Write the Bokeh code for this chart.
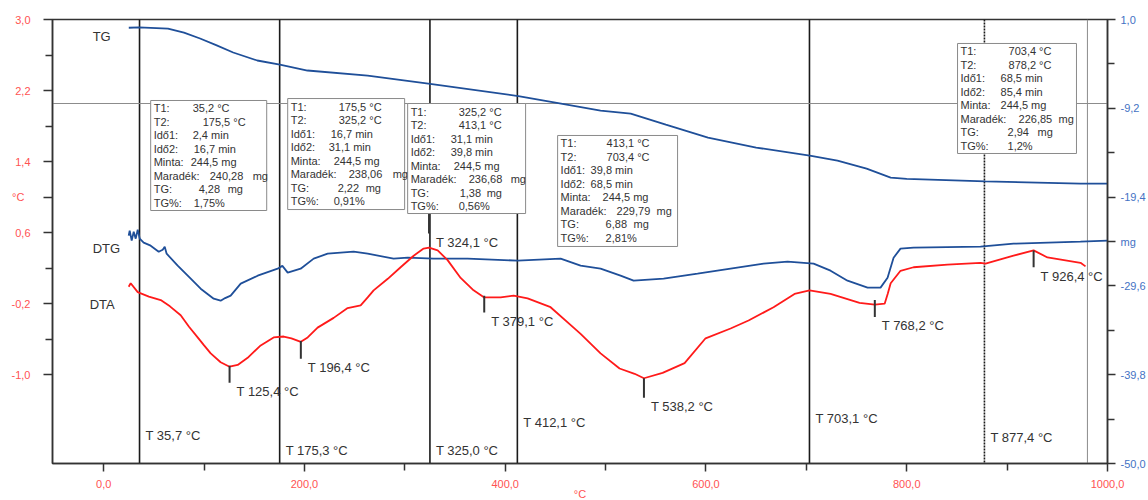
from bokeh.plotting import figure
from bokeh.models import Range1d, LinearAxis, FixedTicker, CustomJSTickFormatter, Span, ColumnDataSource
from bokeh.embed import file_html
from bokeh.resources import INLINE
from bokeh.core.properties import value

# ---------------- data ----------------
# TG curve (mg, right axis)
tg_T = [25, 35.2, 64, 80, 96, 112, 129, 153, 175.5, 203, 263, 325.2, 413.1, 450, 495, 525,
        560, 602, 650, 703.4, 731, 760, 784, 800, 878.2, 973, 1000]
tg_mg = [0.05, 0.1, -0.05, -0.5, -1.18, -1.95, -2.79, -3.71, -4.18, -4.86, -5.44, -6.40, -7.80,
         -8.54, -9.46, -9.80, -11.07, -12.56, -13.71, -14.63, -15.2, -16.13, -17.16, -17.3,
         -17.6, -17.85, -17.85]

# DTG curve (plotted against right axis)
dtg_T = [24.9, 25.9, 27.9, 29.9, 31.9, 33.9, 35.9, 39.8, 46.8, 54.8, 58.8, 60.8, 62.7, 73.7,
         86.7, 96.6, 109.6, 116.5, 121, 126.5, 136.5, 153.4, 173.3, 178, 183.3, 196.2, 209.2,
         223.1, 249.0, 263.0, 288.8, 302.8, 328.7, 362.5, 412.4, 455.2, 475.1, 495.0, 514.9,
         527.9, 557.8, 591.6, 624.5, 657.4, 681.3, 707.2, 724.1, 741.0, 761.0, 773.9, 780.9,
         786.9, 793.8, 806.8, 873.5, 906.4, 973.1, 1000]
dtg_mg = [-23.83, -23.25, -24.40, -23.37, -24.17, -23.14, -24.17, -24.63, -24.98, -25.67,
          -25.44, -25.10, -25.90, -27.28, -28.77, -29.92, -31.07, -31.30, -31.0, -30.72,
          -29.34, -28.43, -27.62, -27.3, -28.08, -27.62, -26.47, -25.90, -25.67, -25.90,
          -26.47, -26.36, -26.47, -26.47, -26.70, -26.47, -27.28, -27.62, -28.43, -29.00,
          -28.77, -28.20, -27.62, -27.05, -26.82, -27.05, -27.85, -29.00, -29.80, -29.80,
          -28.66, -26.36, -25.32, -25.21, -25.09, -24.75, -24.52, -24.40]

# DTA curve (°C, left axis)
dta_T = [24.9, 26.9, 33.9, 45, 56.8, 66, 76.7, 85, 93.6, 100, 106.6, 116.5, 125.4, 133.5,
         143.4, 156.4, 169.3, 179.3, 187, 196.4, 203.2, 213.1, 229.1, 243.0, 256.0, 263.0,
         268.9, 283, 295.8, 308.8, 318.7, 324.1, 332.7, 342.6, 355.6, 368.5, 379.1, 395.4,
         408.4, 422.3, 445.2, 468.1, 475.1, 495.0, 513.9, 528.9, 538.2, 556.8, 578.7, 599.6,
         624.5, 642.4, 667.3, 688.2, 703.2, 724.1, 753.0, 768.2, 778.0, 781.0, 784.0, 793.8,
         806.8, 840.6, 873.5, 878.5, 906.4, 926.4, 940.2, 973.1, 978.1]
dta_v = [-0.01, 0.03, -0.07, -0.12, -0.16, -0.23, -0.33, -0.46, -0.58, -0.67, -0.76, -0.86,
         -0.91, -0.89, -0.81, -0.67, -0.58, -0.57, -0.59, -0.63, -0.58, -0.47, -0.36, -0.25,
         -0.22, -0.13, -0.05, 0.08, 0.21, 0.34, 0.42, 0.43, 0.40, 0.29, 0.09, -0.05, -0.13,
         -0.13, -0.11, -0.14, -0.24, -0.47, -0.54, -0.76, -0.93, -0.99, -1.04, -0.98, -0.87,
         -0.59, -0.48, -0.39, -0.24, -0.09, -0.05, -0.09, -0.19, -0.21, -0.20, -0.09, 0.03,
         0.17, 0.21, 0.24, 0.26, 0.25, 0.34, 0.40, 0.32, 0.26, 0.22]

# peak markers on DTA
peak_T = [125.4, 196.4, 324.1, 379.1, 538.2, 768.2, 926.4]
peak_end1 = [-0.90, -0.62, 0.82, -0.11, -1.04, -0.16, 0.40]
peak_end2 = [-1.09, -0.82, 0.59, -0.30, -1.26, -0.35, 0.21]
peak_labels = ["T 125,4 °C", "T 196,4 °C", "T 324,1 °C", "T 379,1 °C", "T 538,2 °C",
               "T 768,2 °C", "T 926,4 °C"]

# cursor lines
cursor_T = [35.7, 175.3, 325.0, 412.1, 703.1, 877.4]
cursor_labels = ["T 35,7 °C", "T 175,3 °C", "T 325,0 °C", "T 412,1 °C", "T 703,1 °C", "T 877,4 °C"]
cursor_label_y = [-1.685, -1.854, -1.854, -1.538, -1.49, -1.71]

# info boxes
box_rows = ["T1:", "T2:", "Idő1:", "Idő2:", "Minta:", "Maradék:", "TG:", "TG%:"]
box_values = [
    ["35,2 °C", "175,5 °C", "2,4 min", "16,7 min", "244,5 mg", "240,28", "4,28", "1,75%"],
    ["175,5 °C", "325,2 °C", "16,7 min", "31,1 min", "244,5 mg", "238,06", "2,22", "0,91%"],
    ["325,2 °C", "413,1 °C", "31,1 min", "39,8 min", "244,5 mg", "236,68", "1,38", "0,56%"],
    ["413,1 °C", "703,4 °C", "39,8 min", "68,5 min", "244,5 mg", "229,79", "6,88", "2,81%"],
    ["703,4 °C", "878,2 °C", "68,5 min", "85,4 min", "244,5 mg", "226,85", "2,94", "1,2%"],
]
box_left = [46.8, 183.3, 302.8, 452.2, 850.6]
box_right = [162.4, 299.8, 420.3, 571.7, 969.1]
box_top = [2.088, 2.110, 2.054, 1.694, 2.730]
box_bottom = [0.849, 0.860, 0.815, 0.444, 1.491]
val_offsets = [
    [42, 52, 42, 43, 40, 59, 48, 43],
    [51, 51, 43, 41, 46, 61, 50, 46],
    [51, 51, 43, 43, 46, 61, 52, 51],
    [49, 49, 33, 33, 45, 59, 48, 48],
    [51, 51, 43, 43, 43, 61, 50, 50],
]
mg_offsets = [(102, 77), (105, 78), (103, 79), (99, 76), (101, 80)]

# ---------------- style ----------------
PINK = "#ff5252"
LBLUE = "#4472c4"
CBLUE = "#1f4f99"
RED = "#ff1a1a"
TXT = "#333333"
FONT = "Liberation Sans"

p = figure(frame_width=1055, frame_height=444, output_backend="svg", toolbar_location=None,
           x_range=Range1d(-51, 1000), y_range=Range1d(-2.0, 3.0),
           min_border_left=52, min_border_right=41, min_border_top=19, min_border_bottom=37)
p.extra_y_ranges = {"mg": Range1d(-50.0, 1.0)}
p.xgrid.visible = False
p.ygrid.visible = False
p.outline_line_color = "#333333"
p.outline_line_width = 1.5
p.background_fill_color = "white"
p.border_fill_color = "white"

def style_axis(ax, color):
    ax.major_label_text_color = color
    ax.major_label_text_font = FONT
    ax.major_label_text_font_size = "11px"
    ax.axis_line_color = "#333333"
    ax.axis_line_width = 1.5
    ax.major_tick_line_color = "#333333"
    ax.minor_tick_line_color = "#333333"
    ax.major_tick_line_width = 1.5
    ax.minor_tick_line_width = 1.5
    ax.major_tick_in = 0
    ax.minor_tick_in = 0
    ax.major_tick_out = 8
    ax.minor_tick_out = 7

xa = p.xaxis[0]
xa.ticker = FixedTicker(ticks=[0, 200, 400, 600, 800, 1000], minor_ticks=[100, 300, 500, 700, 900])
xa.formatter = CustomJSTickFormatter(code="return tick.toFixed(1).replace('.', ',');")
style_axis(xa, PINK)
xa.major_label_standoff = 8
xa.axis_label = "°C"
xa.axis_label_text_color = PINK
xa.axis_label_text_font = FONT
xa.axis_label_text_font_size = "11px"
xa.axis_label_text_font_style = "normal"
xa.axis_label_standoff = -3

ya = p.yaxis[0]
ya.ticker = FixedTicker(ticks=[3.0, 2.2, 1.4, 1.0, 0.6, -0.2, -1.0],
                        minor_ticks=[2.6, 1.8, 0.2, -0.6])
ya.formatter = CustomJSTickFormatter(
    code="if (Math.abs(tick - 1.0) < 1e-6) { return '°C\u00a0\u00a0'; } return tick.toFixed(1).replace('.', ',');")
style_axis(ya, PINK)
ya.major_tick_out = 9
ya.major_label_standoff = 13

ra = LinearAxis(y_range_name="mg",
                ticker=FixedTicker(ticks=[1.0, -9.2, -19.4, -24.5, -29.6, -39.8, -50.0],
                                   minor_ticks=[-4.1, -14.3, -34.7, -44.9]),
                formatter=CustomJSTickFormatter(
                    code="if (Math.abs(tick + 24.5) < 1e-6) { return 'mg'; } return tick.toFixed(1).replace('.', ',');"))
style_axis(ra, LBLUE)
ra.major_label_standoff = 5
p.add_layout(ra, "right")

# cursor lines & crosshair
for t in cursor_T:
    dash = "2 1" if t == 877.4 else "solid"
    p.add_layout(Span(location=t, dimension="height", line_color="#1a1a1a", line_width=1.6,
                      line_dash=dash, level="underlay"))
p.add_layout(Span(location=2.054, dimension="width", line_color="#8c8c8c", line_width=1,
                  level="underlay"))
p.add_layout(Span(location=980, dimension="height", line_color="#8c8c8c", line_width=1,
                  level="underlay"))

# curves
p.line(tg_T, tg_mg, y_range_name="mg", line_color=CBLUE, line_width=1.8)
p.line(dtg_T, dtg_mg, y_range_name="mg", line_color=CBLUE, line_width=1.8)
p.line(dta_T, dta_v, line_color=RED, line_width=1.8)

# peak markers
p.segment(x0=peak_T, y0=peak_end1, x1=peak_T, y1=peak_end2, line_color="#333333", line_width=2)
p.text(x=peak_T, y=[min(a, b) for a, b in zip(peak_end1, peak_end2)], text=peak_labels,
       x_offset=7, y_offset=9, text_baseline="middle", text_align="left",
       text_font=value(FONT), text_font_size="13px", text_color=TXT)

# cursor labels
p.text(x=cursor_T, y=cursor_label_y, text=cursor_labels, x_offset=6,
       text_baseline="middle", text_align="left",
       text_font=value(FONT), text_font_size="13px", text_color=TXT)

# curve names
p.text(x=[-11, -11, -14], y=[2.81, 0.42, -0.21], text=["TG", "DTG", "DTA"],
       text_baseline="middle", text_align="left",
       text_font=value(FONT), text_font_size="13px", text_color=TXT)

# info boxes
p.quad(left=box_left, right=box_right, top=box_top, bottom=box_bottom,
       fill_color="white", line_color="#8a8a8a", line_width=1)
bx, by, bt, bxo, byo = [], [], [], [], []
for i in range(len(box_left)):
    for k, lab in enumerate(box_rows):
        yo = 8 + 13.5 * k
        bx += [box_left[i], box_left[i]]
        by += [box_top[i], box_top[i]]
        bt += [lab, box_values[i][k]]
        bxo += [3, val_offsets[i][k]]
        byo += [yo, yo]
    for k, off in zip((5, 6), mg_offsets[i]):
        bx.append(box_left[i]); by.append(box_top[i]); bt.append("mg")
        bxo.append(off); byo.append(8 + 13.5 * k)
src = ColumnDataSource(dict(x=bx, y=by, t=bt, xo=bxo, yo=byo))
p.text(x="x", y="y", text="t", x_offset="xo", y_offset="yo", source=src,
       text_baseline="middle", text_align="left",
       text_font=value(FONT), text_font_size="11px", text_color=TXT)

open("out.html", "w").write(file_html(p, INLINE))
